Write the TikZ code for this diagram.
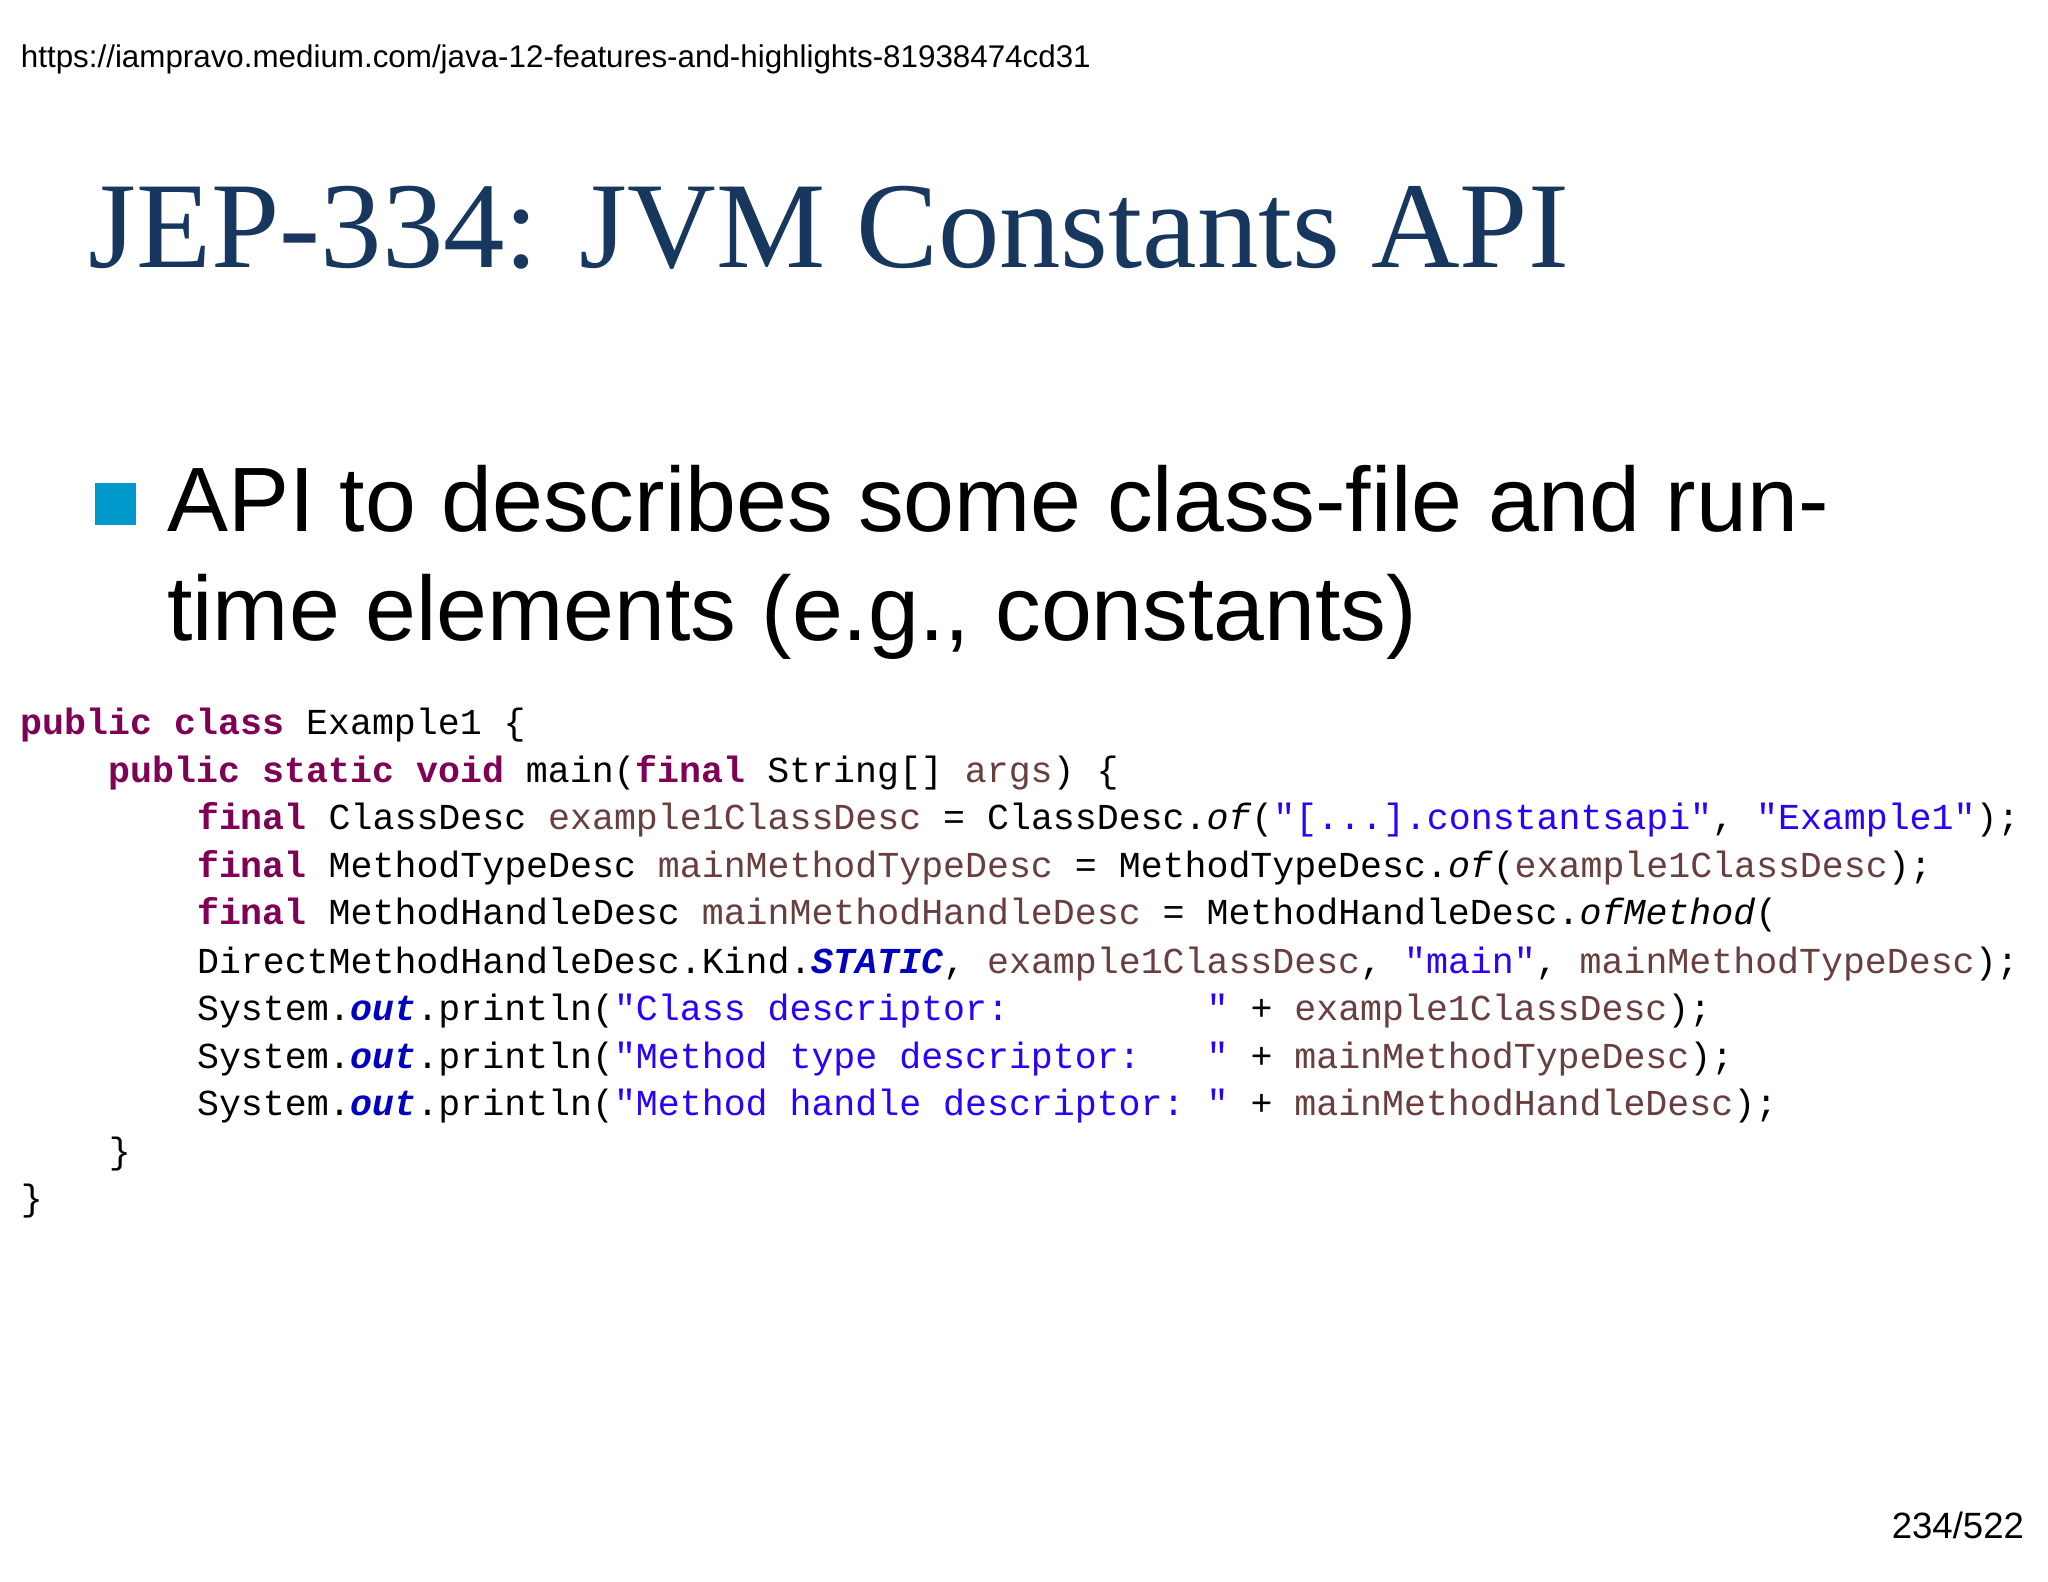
\documentclass[tikz,border=0pt]{standalone}
\usepackage{fontspec}
\setmainfont{Liberation Serif}
\setsansfont{Liberation Sans}
\setmonofont{Liberation Mono}
\definecolor{titleblue}{HTML}{17375E}
\definecolor{bullet}{HTML}{0099CC}
\definecolor{kwc}{HTML}{7F0055}
\definecolor{varc}{HTML}{6A3E3E}
\definecolor{strc}{HTML}{2A00FF}
\definecolor{fldc}{HTML}{0000C0}
\newcommand{\jkw}[1]{\textcolor{kwc}{\textbf{#1}}}
\newcommand{\jvar}[1]{\textcolor{varc}{#1}}
\newcommand{\jstr}[1]{\textcolor{strc}{#1}}
\newcommand{\jfld}[1]{\textcolor{fldc}{\textbf{\textit{#1}}}}
\tikzset{
  txt/.style={anchor=base west,inner sep=0pt,outer sep=0pt},
  code/.style={txt,font=\fontsize{14}{16}\selectfont\ttfamily}
}
\begin{document}
\begin{tikzpicture}[x=0.5pt,y=-0.5pt]
\fill[white] (0,0) rectangle (1568,1211);
\useasboundingbox (0,0) rectangle (1568,1211);
\node[txt,font=\fontsize{12}{14}\selectfont\sffamily] (url) at (16,52) {https://iampravo.medium.com/java-12-features-and-highlights-81938474cd31};
\node[txt,font=\fontsize{47}{52}\selectfont\rmfamily,text=titleblue] (title) at (68,205) {JEP-334: JVM Constants API};
\fill[bullet] (73,370) rectangle (104,402);
\node[txt,font=\fontsize{35}{40}\selectfont\sffamily] (b1) at (128,407) {API to describes some class-file and run-};
\node[txt,font=\fontsize{35}{40}\selectfont\sffamily] (b2) at (128,490) {time elements (e.g., constants)};
\def\cw{16.86}
\node[code] (c1) at (16,562) {\jkw{public} \jkw{class} Example1 \{};
\node[code] (c2) at (16+4*\cw,599) {\jkw{public} \jkw{static} \jkw{void} main(\jkw{final} String[] \jvar{args}) \{};
\node[code] (c3) at (16+8*\cw,635) {\jkw{final} ClassDesc \jvar{example1ClassDesc} = ClassDesc.\textit{of}(\jstr{"[...].constantsapi"}, \jstr{"Example1"});};
\node[code] (c4) at (16+8*\cw,672) {\jkw{final} MethodTypeDesc \jvar{mainMethodTypeDesc} = MethodTypeDesc.\textit{of}(\jvar{example1ClassDesc});};
\node[code] (c5) at (16+8*\cw,708) {\jkw{final} MethodHandleDesc \jvar{mainMethodHandleDesc} = MethodHandleDesc.\textit{ofMethod}(};
\node[code] (c6) at (16+8*\cw,745) {DirectMethodHandleDesc.Kind.\jfld{STATIC}, \jvar{example1ClassDesc}, \jstr{"main"}, \jvar{mainMethodTypeDesc});};
\node[code] (c7) at (16+8*\cw,781) {System.\jfld{out}.println(\jstr{"Class descriptor:\ \ \ \ \ \ \ \ \ "} + \jvar{example1ClassDesc});};
\node[code] (c8) at (16+8*\cw,818) {System.\jfld{out}.println(\jstr{"Method type descriptor:\ \ \ "} + \jvar{mainMethodTypeDesc});};
\node[code] (c9) at (16+8*\cw,854) {System.\jfld{out}.println(\jstr{"Method handle descriptor: "} + \jvar{mainMethodHandleDesc});};
\node[code] (c10) at (16+4*\cw,891) {\}};
\node[code] (c11) at (16,927) {\}};
\node[anchor=base east,inner sep=0pt,font=\fontsize{14}{16}\selectfont\sffamily] (pg) at (1550,1178) {234/522};
\end{tikzpicture}
\end{document}
